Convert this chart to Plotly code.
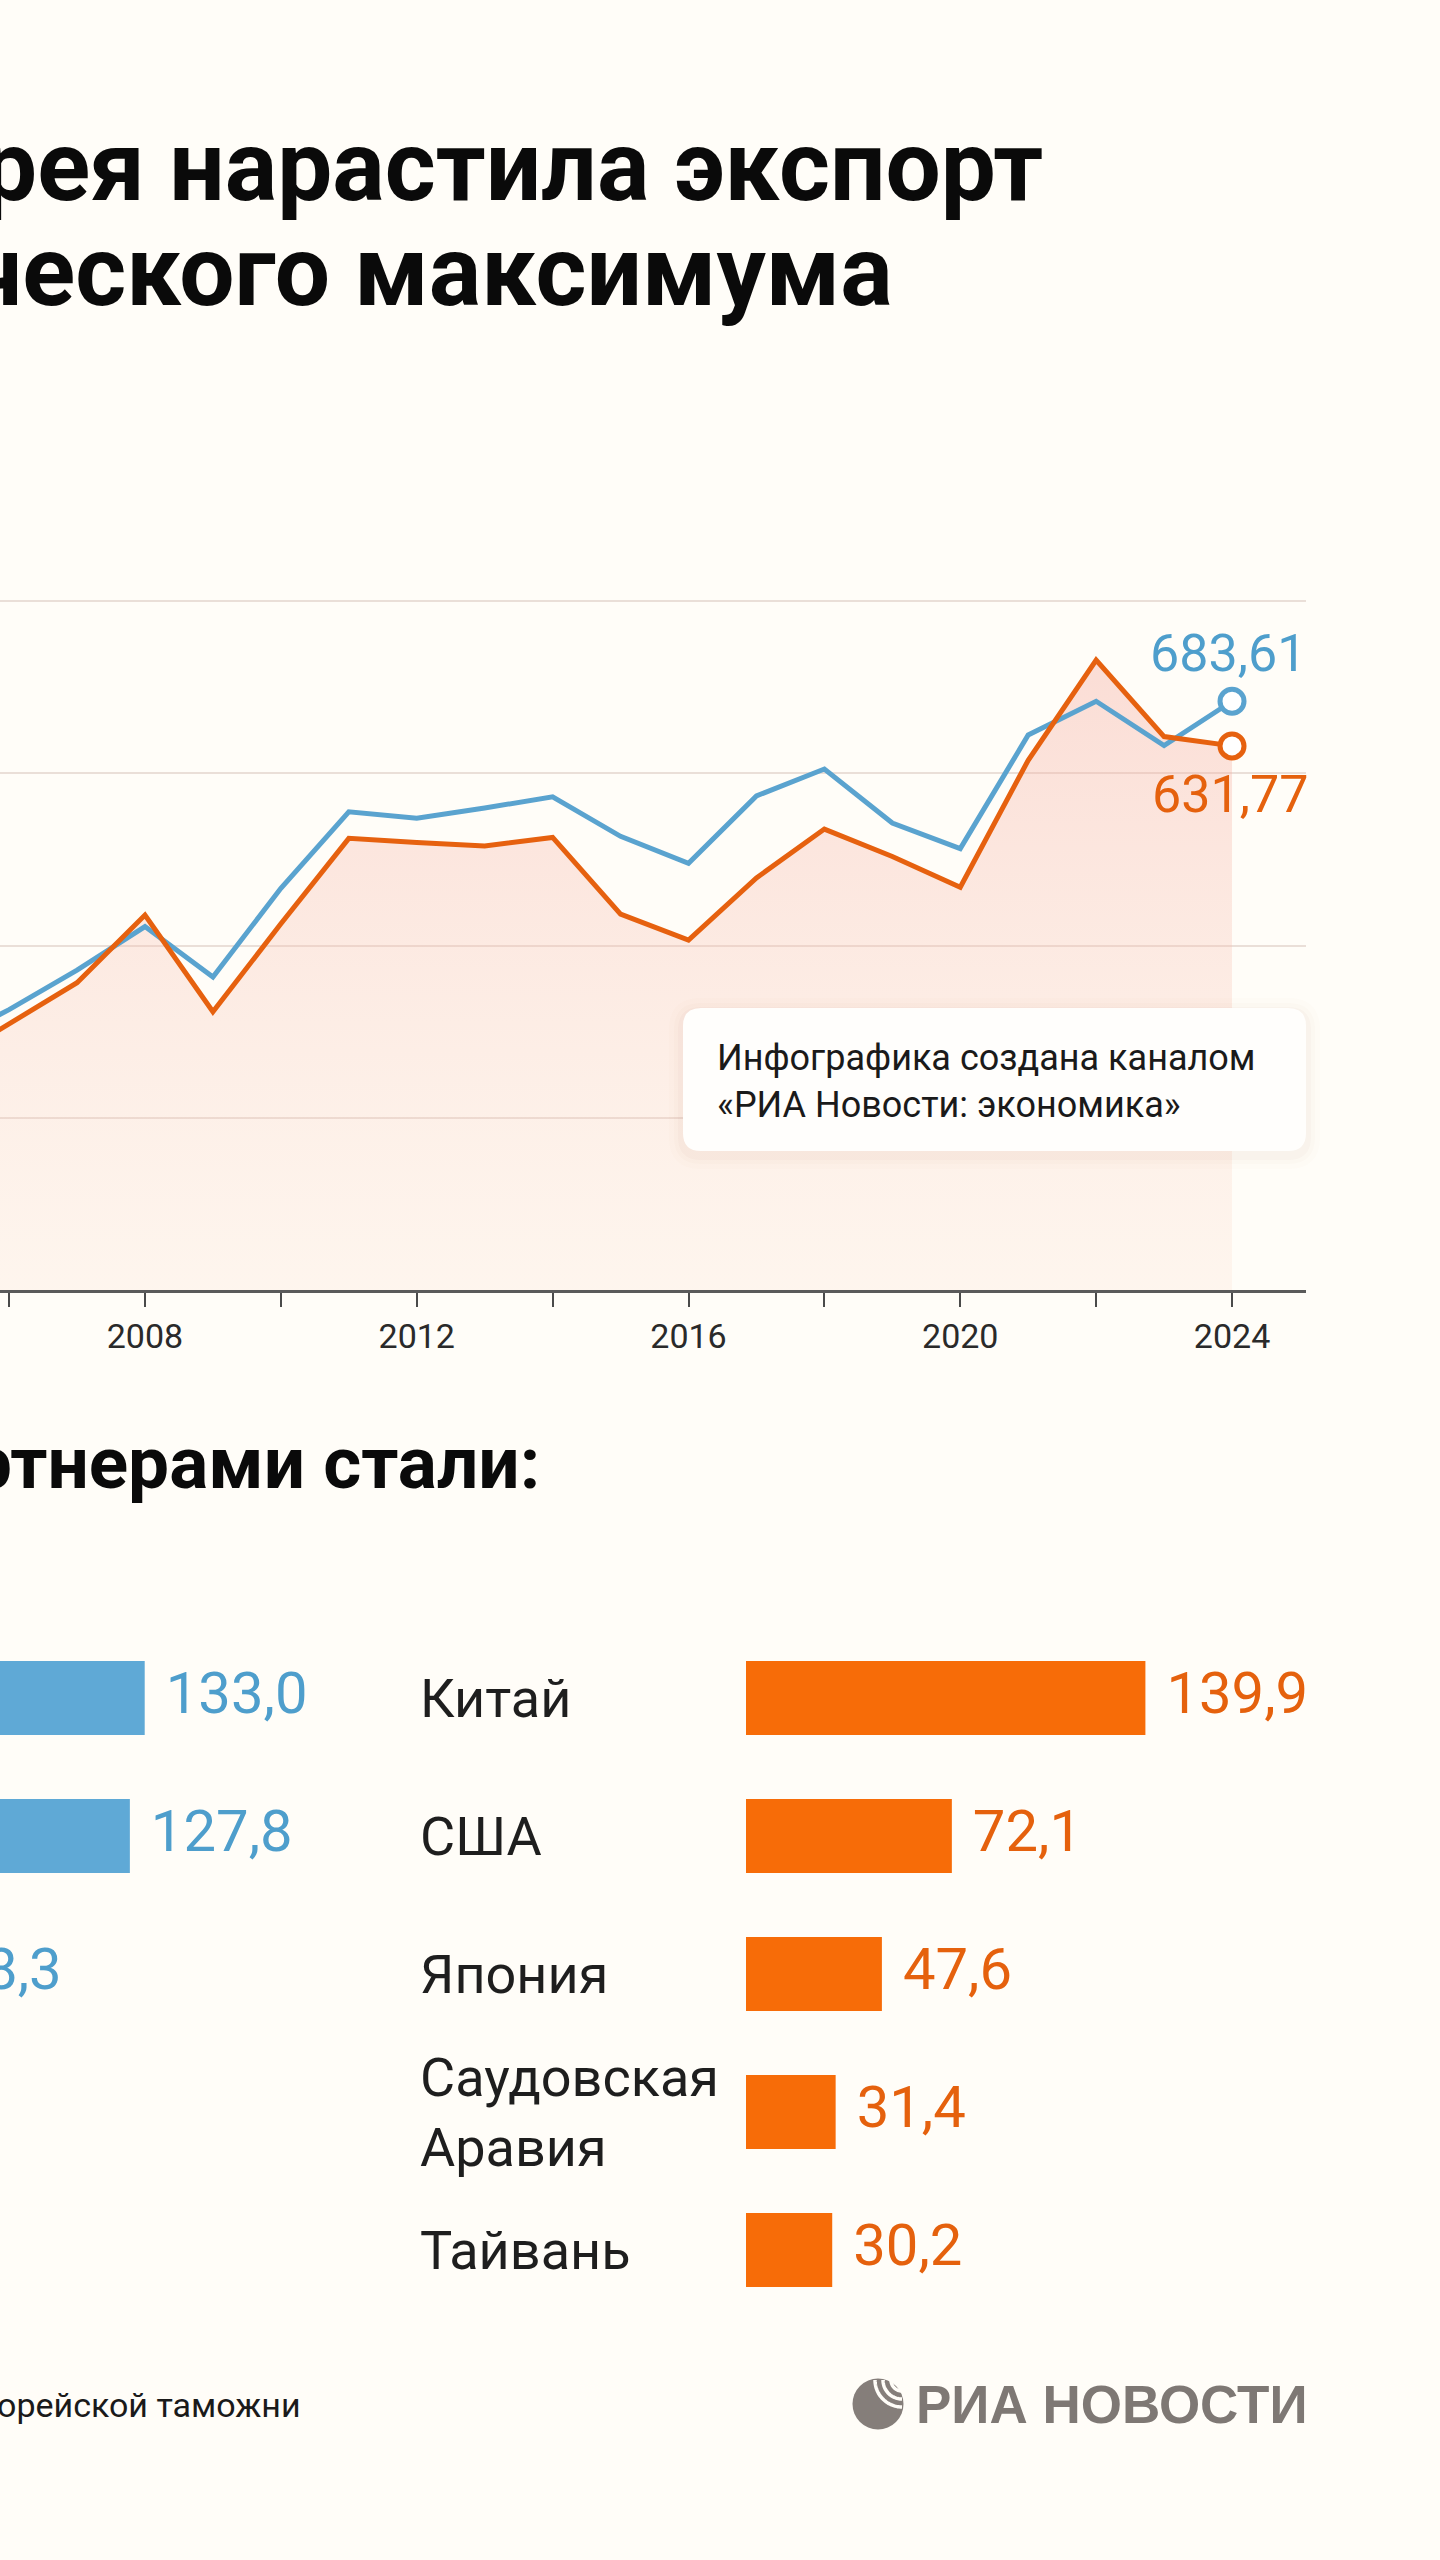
import math
import plotly.graph_objects as go

# ---------------- data ----------------
years = list(range(2005, 2025))
exports = [284.4, 325.5, 371.5, 422.0, 363.5, 466.4, 555.2, 547.9, 559.6, 572.7,
           526.8, 495.4, 573.7, 604.9, 542.2, 512.5, 644.4, 683.6, 632.2, 683.61]
imports = [261.2, 309.4, 356.8, 435.3, 323.1, 425.2, 524.4, 519.6, 515.6, 525.5,
           436.5, 406.2, 478.5, 535.2, 503.3, 467.6, 615.1, 731.4, 642.6, 631.77]
tick_years = list(range(2006, 2025, 2))
tick_labels = [str(y) if y % 4 == 0 else "" for y in tick_years]
grid_values = [200, 400, 600, 800]

export_values = [133.0, 127.8, 58.3]
import_countries = ["Китай", "США", "Япония", "Саудовская<br>Аравия", "Тайвань"]
import_values = [139.9, 72.1, 47.6, 31.4, 30.2]

title_line1 = "рея нарастила экспорт"
title_line2 = "ческого максимума"
subtitle = "ртнерами стали:"
source_text = "орейской таможни"
note_text = "Инфографика создана каналом<br>«РИА Новости: экономика»"
brand_text = "РИА НОВОСТИ"

# ---------------- style ----------------
W, H = 1440, 2560
BG = "#FFFDF8"
BLUE_LINE = "#5AA3CF"
ORANGE_LINE = "#E6610F"
BLUE_BAR = "#5FA9D6"
ORANGE_BAR = "#F76C08"
BLUE_TEXT = "#4E9ECC"
ORANGE_TEXT = "#E5610D"
INK = "#1E1E1E"
TITLE_FONT = "Roboto, Noto Sans, sans-serif"
BODY_FONT = "Roboto, Noto Sans, sans-serif"


def fmt(v, d):
    return f"{v:.{d}f}".replace(".", ",")


def X(p):
    return p / W


def Y(p):
    return 1 - p / H


# geometry (pixels)
LEFT_YEAR = 2005.866
PX_PER_YEAR = 67.94
PLOT_RIGHT = 1306
LINE_TOP, LINE_BOTTOM = 560, 1290
PX_PER_UNIT = 689 / 800
BAR_TOP, BAR_BOTTOM = 1629, 2319
PX_PER_BN = 2.855
LEFT_ZERO = -235
LEFT_DOMAIN_RIGHT = 700
RIGHT_ZERO = 746

rows_exp = list(range(len(export_values)))
rows_imp = list(range(len(import_values)))

fig = go.Figure()

# area under imports
fig.add_trace(go.Scatter(
    x=years, y=imports, mode="none", fill="tozeroy",
    fillgradient=dict(type="vertical",
                      colorscale=[[0, "rgba(250,214,196,0.20)"], [1, "rgba(244,168,156,0.38)"]],
                      start=0, stop=740),
    hoverinfo="skip", showlegend=False))
fig.add_trace(go.Scatter(x=years, y=exports, mode="lines",
                         line=dict(color=BLUE_LINE, width=5), hoverinfo="skip", showlegend=False))
fig.add_trace(go.Scatter(x=years, y=imports, mode="lines",
                         line=dict(color=ORANGE_LINE, width=5), hoverinfo="skip", showlegend=False))
fig.add_trace(go.Scatter(
    x=[years[-1], years[-1]], y=[exports[-1], imports[-1]], mode="markers",
    marker=dict(size=24, color="#FFFFFF", line=dict(color=[BLUE_LINE, ORANGE_LINE], width=5)),
    hoverinfo="skip", showlegend=False, cliponaxis=False))

# bars: exports (left, cut) and imports (right)
fig.add_trace(go.Bar(x=export_values, y=rows_exp, orientation="h", width=0.536,
                     marker=dict(color=BLUE_BAR, line=dict(width=0)),
                     xaxis="x2", yaxis="y2", hoverinfo="skip", showlegend=False))
fig.add_trace(go.Scatter(x=export_values, y=rows_exp, mode="markers+text",
                         marker=dict(size=32, opacity=0),
                         text=[fmt(v, 1) for v in export_values], textposition="middle right",
                         textfont=dict(family=BODY_FONT, size=58, color=BLUE_TEXT),
                         xaxis="x2", yaxis="y2", hoverinfo="skip", showlegend=False))
fig.add_trace(go.Bar(x=import_values, y=rows_imp, orientation="h", width=0.536,
                     marker=dict(color=ORANGE_BAR, line=dict(width=0)),
                     xaxis="x3", yaxis="y2", hoverinfo="skip", showlegend=False))
fig.add_trace(go.Scatter(x=import_values, y=rows_imp, mode="markers+text",
                         marker=dict(size=32, opacity=0),
                         text=[fmt(v, 1) for v in import_values], textposition="middle right",
                         textfont=dict(family=BODY_FONT, size=58, color=ORANGE_TEXT),
                         xaxis="x3", yaxis="y2", hoverinfo="skip", showlegend=False))

annotations = []


def add_text(text, x, y, size, color=INK, family=BODY_FONT, xanchor="left", weight=None, **kw):
    font = dict(family=family, size=size, color=color)
    if weight:
        font["weight"] = weight
    d = dict(text=text, x=x, y=y, xref=kw.pop("xref", "paper"), yref=kw.pop("yref", "paper"),
             xanchor=xanchor, yanchor="middle", showarrow=False, font=font, align="left")
    d.update(kw)
    annotations.append(d)


add_text(title_line1, X(1045), Y(167), 98, "#0A0A0A", TITLE_FONT, "right", 700)
add_text(title_line2, X(895), Y(272), 98, "#0A0A0A", TITLE_FONT, "right", 700)
add_text(subtitle, X(542), Y(1463), 73, "#0A0A0A", TITLE_FONT, "right", 700)

# end-of-line value labels
add_text(fmt(exports[-1], 2), years[-1], exports[-1], 52, BLUE_TEXT, xanchor="center",
         xref="x", yref="y", yshift=48, xshift=-4)
add_text(fmt(imports[-1], 2), years[-1], imports[-1], 52, ORANGE_TEXT, xanchor="center",
         xref="x", yref="y", yshift=-49, xshift=-2)

# note box text
add_text(note_text, X(715), Y(1081), 36, "#1A1A1A")

# category labels
for r, name in zip(rows_imp, import_countries):
    add_text(name, X(418), r, 54, INK, yref="y2")

# footer
add_text(source_text, X(303), Y(2405), 34, "#1A1A1A", xanchor="right")
add_text(brand_text, X(1310), Y(2404), 53, "#7E7874", "Liberation Sans, Arial, sans-serif", "right", 700)


def rrect(x0, y0, x1, y1, r):
    return (f"M {X(x0 + r)},{Y(y0)} L {X(x1 - r)},{Y(y0)} Q {X(x1)},{Y(y0)} {X(x1)},{Y(y0 + r)} "
            f"L {X(x1)},{Y(y1 - r)} Q {X(x1)},{Y(y1)} {X(x1 - r)},{Y(y1)} "
            f"L {X(x0 + r)},{Y(y1)} Q {X(x0)},{Y(y1)} {X(x0)},{Y(y1 - r)} "
            f"L {X(x0)},{Y(y0 + r)} Q {X(x0)},{Y(y0)} {X(x0 + r)},{Y(y0)} Z")


shapes = []
for grow, alpha in [(14, 0.015), (9, 0.022), (5, 0.03)]:
    shapes.append(dict(type="path", path=rrect(683 - grow, 1008 - grow + 4, 1306 + grow, 1151 + grow + 4, 18 + grow),
                       xref="paper", yref="paper", fillcolor=f"rgba(160,110,80,{alpha})",
                       line=dict(width=0), layer="above"))
shapes.append(dict(type="path", path=rrect(683, 1008, 1306, 1151, 18), xref="paper", yref="paper",
                   fillcolor="#FFFEFC", line=dict(width=0), layer="above"))

# logo icon
cx, cy, rad = 878, 2404, 25.5
shapes.append(dict(type="circle", xref="paper", yref="paper", x0=X(cx - rad), x1=X(cx + rad),
                   y0=Y(cy + rad), y1=Y(cy - rad), fillcolor="#857E7A", line=dict(width=0), layer="above"))
ox, oy = cx + 24, cy - 24
for ar in [11, 19, 27]:
    pts = []
    for i in range(0, 31):
        a = math.radians(90 + i * 3)
        pts.append((ox + ar * math.cos(a), oy + ar * math.sin(a)))
    path = "M " + " L ".join(f"{X(px_)},{Y(py_)}" for px_, py_ in pts)
    shapes.append(dict(type="path", path=path, xref="paper", yref="paper",
                       line=dict(color=BG, width=3.5), layer="above"))

fig.update_layout(
    width=W, height=H, margin=dict(l=0, r=0, t=0, b=0, pad=0),
    paper_bgcolor=BG, plot_bgcolor="rgba(0,0,0,0)", showlegend=False,
    xaxis=dict(domain=[0, X(PLOT_RIGHT)], range=[LEFT_YEAR, LEFT_YEAR + PLOT_RIGHT / PX_PER_YEAR],
               tickmode="array", tickvals=tick_years, ticktext=tick_labels, ticks="outside",
               ticklen=14, tickwidth=1.5, tickcolor="#4A4A4A", showline=True, linecolor="#5A5A5A",
               linewidth=3, showgrid=False, zeroline=False,
               tickfont=dict(family=BODY_FONT, size=34, color="#2A2A2A"), anchor="y", fixedrange=True),
    yaxis=dict(domain=[Y(LINE_BOTTOM), Y(LINE_TOP)], range=[0, (LINE_BOTTOM - LINE_TOP) / PX_PER_UNIT],
               tickmode="array", tickvals=grid_values, showticklabels=False, showgrid=True,
               gridcolor="#EADFD8", gridwidth=1.5, zeroline=False, showline=False, anchor="x",
               fixedrange=True),
    xaxis2=dict(domain=[0, X(LEFT_DOMAIN_RIGHT)],
                range=[-LEFT_ZERO / PX_PER_BN, (LEFT_DOMAIN_RIGHT - LEFT_ZERO) / PX_PER_BN],
                visible=False, anchor="y2", fixedrange=True),
    yaxis2=dict(domain=[Y(BAR_BOTTOM), Y(BAR_TOP)], range=[len(import_values) - 0.5, -0.5],
                visible=False, anchor="x2", fixedrange=True),
    xaxis3=dict(domain=[X(RIGHT_ZERO), 1], range=[0, (W - RIGHT_ZERO) / PX_PER_BN],
                visible=False, anchor="y2", fixedrange=True),
    annotations=annotations, shapes=shapes,
)

fig.write_html("out.html", config={"displayModeBar": False},
               post_script="document.body.style.margin='0';document.body.style.overflow='hidden';")
